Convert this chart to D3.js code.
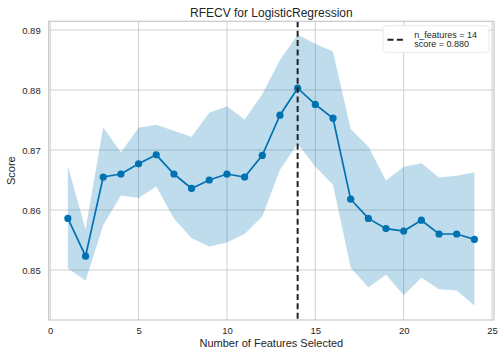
<!DOCTYPE html>
<html>
<head>
<meta charset="utf-8">
<script src="https://cdn.jsdelivr.net/npm/d3@7"></script>
<style>
  html, body { margin: 0; padding: 0; background: #fff; }
  svg { display: block; font-family: "Liberation Sans", Arial, sans-serif; }
</style>
</head>
<body>
<svg id="chart" width="504" height="357"></svg>
<script>
const nFeatures = [1,2,3,4,5,6,7,8,9,10,11,12,13,14,15,16,17,18,19,20,21,22,23,24];
const meanScore = [0.8586,0.8523,0.8655,0.8660,0.8677,0.8692,0.8660,0.8636,0.8650,0.8660,0.8655,0.8691,0.8758,0.8803,0.8776,0.8753,0.8618,0.8586,0.8569,0.8565,0.8583,0.8560,0.8560,0.8551];
const upperScore = [0.8673,0.8568,0.8738,0.8696,0.8737,0.8742,0.8732,0.8722,0.8762,0.8773,0.8751,0.8793,0.8850,0.8892,0.8877,0.8864,0.8735,0.8706,0.8649,0.8672,0.8678,0.8654,0.8657,0.8663];
const lowerScore = [0.8503,0.8482,0.8575,0.8624,0.8620,0.8639,0.8586,0.8553,0.8539,0.8546,0.8560,0.8589,0.8667,0.8711,0.8672,0.8642,0.8504,0.8471,0.8492,0.8458,0.8487,0.8468,0.8466,0.8441];
const xTicks = [0,5,10,15,20,25];
const yTicks = [0.85,0.86,0.87,0.88,0.89];
const bestN = 14;
const bestScore = 0.880;
const titleText = "RFECV for LogisticRegression";
const xLabel = "Number of Features Selected";
const yLabel = "Score";
const legendLines = ["n_features = " + bestN, "score = " + bestScore.toFixed(3)];

const data = nFeatures.map((n, i) => ({n, m: meanScore[i], lo: lowerScore[i], hi: upperScore[i]}));

const svg = d3.select("#chart");
const L = 48.7, R = 494, T = 21.3, B = 320;
const x = d3.scaleLinear().domain([-0.085, 25.11]).range([L, R]);
const y = d3.scaleLinear().domain([0.84167, 0.89145]).range([B, T]);
const textColor = "#262626";
const gridColor = "#cfcfcf";
const lineColor = "#0072B2";

// grid
svg.append("g").selectAll("line").data(xTicks).join("line")
  .attr("x1", d => x(d)).attr("x2", d => x(d)).attr("y1", T).attr("y2", B)
  .attr("stroke", gridColor).attr("stroke-width", 1);
svg.append("g").selectAll("line").data(yTicks).join("line")
  .attr("x1", L).attr("x2", R).attr("y1", d => y(d)).attr("y2", d => y(d))
  .attr("stroke", gridColor).attr("stroke-width", 1);

// band
svg.append("path").datum(data)
  .attr("d", d3.area().x(d => x(d.n)).y0(d => y(d.lo)).y1(d => y(d.hi)))
  .attr("fill", lineColor).attr("fill-opacity", 0.25);

// line + markers
svg.append("path").datum(data)
  .attr("d", d3.line().x(d => x(d.n)).y(d => y(d.m)))
  .attr("fill", "none").attr("stroke", lineColor).attr("stroke-width", 1.7);
svg.append("g").selectAll("circle").data(data).join("circle")
  .attr("cx", d => x(d.n)).attr("cy", d => y(d.m)).attr("r", 3.6)
  .attr("fill", lineColor);

// vertical best line
svg.append("line")
  .attr("x1", x(bestN)).attr("x2", x(bestN)).attr("y1", T).attr("y2", B)
  .attr("stroke", "#222").attr("stroke-width", 2).attr("stroke-dasharray", "6,3.4");

// spines
svg.append("rect").attr("x", L).attr("y", T).attr("width", R - L).attr("height", B - T)
  .attr("fill", "none").attr("stroke", "#c8c8c8").attr("stroke-width", 1.2);

// axes tick labels using d3 axes
const xAxis = svg.append("g").attr("transform", `translate(0,${B})`)
  .call(d3.axisBottom(x).tickValues(xTicks).tickFormat(d3.format("d")).tickSize(0).tickPadding(7));
const yAxis = svg.append("g").attr("transform", `translate(${L},0)`)
  .call(d3.axisLeft(y).tickValues(yTicks).tickFormat(d3.format(".2f")).tickSize(0).tickPadding(8));
[xAxis, yAxis].forEach(a => {
  a.select(".domain").remove();
  a.selectAll("text").attr("fill", textColor).attr("font-size", "9.5px")
    .attr("font-family", "Liberation Sans, Arial, sans-serif");
});

// labels
svg.append("text").attr("x", (L + R) / 2).attr("y", 16.5).attr("text-anchor", "middle")
  .attr("font-size", "12px").attr("fill", textColor).text(titleText);
svg.append("text").attr("x", (L + R) / 2).attr("y", 347.3).attr("text-anchor", "middle")
  .attr("font-size", "11px").attr("fill", textColor).text(xLabel);
svg.append("text").attr("transform", `translate(15,${(T + B) / 2}) rotate(-90)`)
  .attr("text-anchor", "middle").attr("font-size", "11px").attr("fill", textColor).text(yLabel);

// legend
const lg = svg.append("g");
lg.append("rect").attr("x", 383).attr("y", 25.7).attr("width", 106).attr("height", 26.6)
  .attr("rx", 3).attr("fill", "#fff").attr("fill-opacity", 0.9)
  .attr("stroke", "#e3e3e3").attr("stroke-width", 0.8);
lg.append("line").attr("x1", 387.5).attr("x2", 405).attr("y1", 39.7).attr("y2", 39.7)
  .attr("stroke", "#222").attr("stroke-width", 2).attr("stroke-dasharray", "6,3.4");
lg.selectAll("text").data(legendLines).join("text")
  .attr("x", 414.3).attr("y", (d, i) => 38.3 + i * 8.9)
  .attr("font-size", "9px").attr("fill", textColor).text(d => d);
</script>
</body>
</html>
